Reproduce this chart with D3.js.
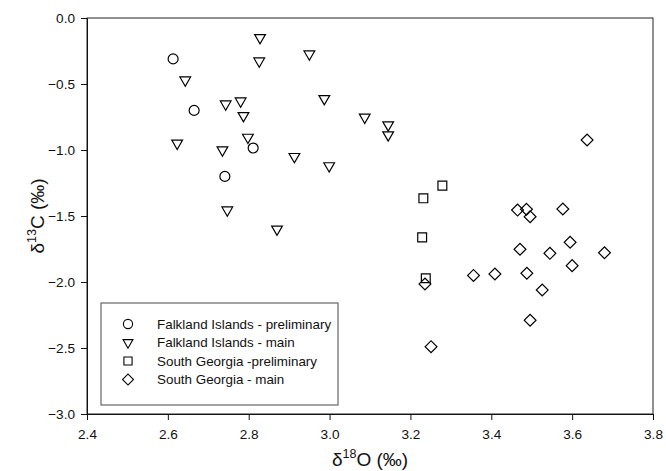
<!DOCTYPE html>
<html>
<head>
<meta charset="utf-8">
<script src="https://cdn.jsdelivr.net/npm/d3@7"></script>
<style>
  body { margin: 0; background: #fff; }
  svg { display: block; font-family: "Liberation Sans", Arial, sans-serif; }
</style>
</head>
<body>
<script>
// data (d18O, d13C)
var fiPrelimX = [2.613, 2.665, 2.811, 2.741];
var fiPrelimY = [-0.31, -0.70, -0.985, -1.20];

var fiMainX = [2.828, 2.950, 2.826, 2.643, 2.987, 2.743, 2.780, 2.787, 3.087, 3.145, 3.145, 2.798, 2.623, 2.735, 2.913, 2.999, 2.747, 2.870];
var fiMainY = [-0.149, -0.273, -0.326, -0.47, -0.611, -0.652, -0.629, -0.740, -0.752, -0.81, -0.886, -0.904, -0.949, -1.0, -1.05, -1.12, -1.455, -1.60];

var sgPrelimX = [3.279, 3.232, 3.229, 3.238];
var sgPrelimY = [-1.270, -1.366, -1.662, -1.972];

var sgMainX = [3.465, 3.487, 3.496, 3.577, 3.471, 3.595, 3.545, 3.680, 3.600, 3.356, 3.409, 3.488, 3.236, 3.526, 3.496, 3.251, 3.637];
var sgMainY = [-1.455, -1.449, -1.505, -1.447, -1.752, -1.699, -1.783, -1.778, -1.876, -1.950, -1.939, -1.934, -2.015, -2.061, -2.290, -2.490, -0.924];

var seriesNames = ["Falkland Islands - preliminary", "Falkland Islands - main", "South Georgia -preliminary", "South Georgia - main"];
var xTicks = [2.4, 2.6, 2.8, 3.0, 3.2, 3.4, 3.6, 3.8];
var yTicks = [0.0, -0.5, -1.0, -1.5, -2.0, -2.5, -3.0];

var W = 666, H = 471;
var margin = {top: 18, right: 13, bottom: 57, left: 87};
var width = W - margin.left - margin.right,
    height = H - margin.top - margin.bottom;

var svg = d3.select("body").append("svg")
    .attr("width", W)
    .attr("height", H);

var g = svg.append("g")
    .attr("transform", "translate(" + margin.left + "," + margin.top + ")");

var x = d3.scaleLinear().domain([2.4, 3.8]).range([0, width]);
var y = d3.scaleLinear().domain([-3.0, 0.0]).range([height, 0]);

// frame
g.append("rect")
    .attr("width", width)
    .attr("height", height)
    .attr("fill", "none")
    .attr("stroke", "#222")
    .attr("stroke-width", 1);

var xAxis = g.append("g")
    .attr("transform", "translate(0," + height + ")")
    .call(d3.axisBottom(x).tickValues(xTicks).tickFormat(d3.format(".1f")).tickSize(6).tickPadding(9));

var yAxis = g.append("g")
    .call(d3.axisLeft(y).tickValues(yTicks).tickFormat(d3.format(".1f")).tickSize(6).tickPadding(6));

[xAxis, yAxis].forEach(function(a) {
    a.select(".domain").attr("stroke", "#111");
    a.selectAll(".tick line").attr("stroke", "#111");
    a.selectAll("text").attr("font-size", 13.6).attr("fill", "#111")
        .attr("font-family", "Liberation Sans, Arial, sans-serif");
});

// axis titles
var xt = svg.append("text")
    .attr("x", margin.left + width / 2)
    .attr("y", 466)
    .attr("text-anchor", "middle")
    .attr("font-size", 19)
    .attr("fill", "#111");
xt.append("tspan").text("\u03b4");
xt.append("tspan").attr("font-size", 12.5).attr("dy", -8).text("18");
xt.append("tspan").attr("dy", 8).text("O (\u2030)");

var yt = svg.append("text")
    .attr("transform", "translate(44," + (margin.top + height / 2) + ") rotate(-90)")
    .attr("text-anchor", "middle")
    .attr("font-size", 19)
    .attr("fill", "#111");
yt.append("tspan").text("\u03b4");
yt.append("tspan").attr("font-size", 12.5).attr("dy", -8).text("13");
yt.append("tspan").attr("dy", 8).text("C (\u2030)");

// marker shapes
var shapes = [
    {type: d3.symbolCircle, size: 78, rot: 0},
    {type: d3.symbolTriangle, size: 50, rot: 180},
    {type: d3.symbolSquare, size: 78, rot: 0},
    {type: d3.symbolSquare, size: 70, rot: 45}
];

var series = [
    {x: fiPrelimX, y: fiPrelimY},
    {x: fiMainX, y: fiMainY},
    {x: sgPrelimX, y: sgPrelimY},
    {x: sgMainX, y: sgMainY}
];

series.forEach(function(s, i) {
    var sh = shapes[i];
    var pts = s.x.map(function(v, j) { return [v, s.y[j]]; });
    g.append("g").selectAll("path")
        .data(pts)
        .join("path")
        .attr("d", d3.symbol().type(sh.type).size(sh.size))
        .attr("transform", function(d) {
            return "translate(" + x(d[0]) + "," + y(d[1]) + ") rotate(" + sh.rot + ")";
        })
        .attr("fill", "none")
        .attr("stroke", "#000")
        .attr("stroke-width", 1.2);
});

// legend
var legend = svg.append("g").attr("transform", "translate(101,303)");
legend.append("rect")
    .attr("width", 237)
    .attr("height", 102)
    .attr("fill", "#fff")
    .attr("stroke", "#666")
    .attr("stroke-width", 1.2);

var rows = legend.selectAll("g.row")
    .data(seriesNames)
    .join("g")
    .attr("class", "row")
    .attr("transform", function(d, i) { return "translate(0," + (21 + i * 18.5) + ")"; });

rows.append("path")
    .attr("d", function(d, i) { return d3.symbol().type(shapes[i].type).size(shapes[i].size * 0.85)(); })
    .attr("transform", function(d, i) { return "translate(27,0) rotate(" + shapes[i].rot + ")"; })
    .attr("fill", "none")
    .attr("stroke", "#000")
    .attr("stroke-width", 1.1);

rows.append("text")
    .attr("x", 56)
    .attr("y", 4.5)
    .attr("font-size", 13.4)
    .attr("fill", "#111")
    .text(function(d) { return d; });
</script>
</body>
</html>
